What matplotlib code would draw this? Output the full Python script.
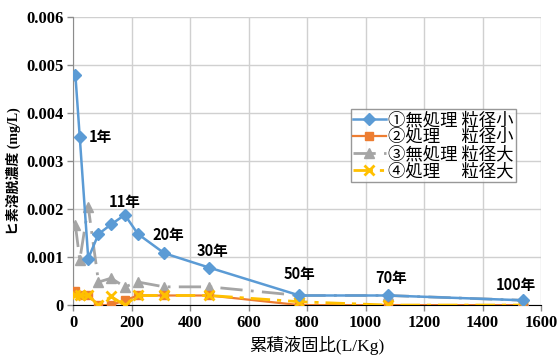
import matplotlib
matplotlib.use("Agg")
import matplotlib.pyplot as plt

# cumulative liquid/solid ratio (L/Kg)
ls_ratio = [8, 23, 52, 87, 130, 177, 222, 312, 466, 774, 1076, 1539]

# arsenic leaching concentration (mg/L)
untreated_small = [0.0048, 0.0035, 0.00097, 0.00148, 0.00168, 0.00188,
                   0.00148, 0.00108, 0.00078, 0.0002, 0.0002, 0.0001]
treated_small = [0.0003, 0.00022, 0.0002, 0.0, 0.0, 0.0001,
                 0.0002, 0.0002, 0.0002, 0.0, 0.0, 0.0]
untreated_large = [0.00167, 0.00094, 0.00205, 0.00048, 0.00056, 0.00038,
                   0.00048, 0.00038, 0.00038, 0.0002, 0.0002, 0.0001]
treated_large = [0.0002, 0.0002, 0.0002, 0.0, 0.00018, 0.0,
                 0.0002, 0.0002, 0.0002, 0.00007, 0.0, 0.0]

series_names = ["①無処理 粒径小", "②処理\u3000 粒径小", "③無処理 粒径大", "④処理\u3000 粒径大"]

# elapsed-years labels attached to points of the first series
year_labels = ["1年", "11年", "20年", "30年", "50年", "70年", "100年"]
year_index = [1, 5, 7, 8, 9, 10, 11]

x_ticks = [0, 200, 400, 600, 800, 1000, 1200, 1400, 1600]
y_ticks = [0, 0.001, 0.002, 0.003, 0.004, 0.005, 0.006]

CJK = "Noto Sans CJK JP"
MIXED = ["Liberation Serif", CJK]

fig = plt.figure(figsize=(5.6, 3.56), dpi=100)
ax = fig.add_axes([0.1304, 0.143, 0.836, 0.809])

blue, orange, gray, yellow = "#5B9BD5", "#ED7D31", "#A5A5A5", "#FFC000"

ax.plot(ls_ratio, untreated_large, color=gray, lw=2, ls=(0, (8, 3, 1, 3)),
        marker="^", ms=7, mfc=gray, mec=gray, label=series_names[2], zorder=3)
ax.plot(ls_ratio, treated_small, color=orange, lw=1.6, ls="-",
        marker="s", ms=6, mfc=orange, mec=orange, label=series_names[1], zorder=4)
ax.plot(ls_ratio, treated_large, color=yellow, lw=2, ls=(0, (7, 2.5, 1.5, 2.5)),
        marker="x", ms=7, mew=2, mec=yellow, label=series_names[3], zorder=5)
ax.plot(ls_ratio, untreated_small, color=blue, lw=1.8, ls="-",
        marker="D", ms=6, mfc=blue, mec=blue, label=series_names[0], zorder=6)

offsets = [(9, 0), (0, 13), (4, 18), (3, 17), (0, 21), (3, 17), (-7, 15)]
for lab, idx, off in zip(year_labels, year_index, offsets):
    ha = "left" if idx == 1 else "center"
    ax.annotate(lab, (ls_ratio[idx], untreated_small[idx]), xytext=off,
                textcoords="offset pixels", ha=ha, va="center",
                fontsize=10.5, fontweight="bold", family=CJK, zorder=7)

ax.set_xlim(0, 1600)
ax.set_ylim(0, 0.006)
ax.set_xticks(x_ticks)
ax.set_yticks(y_ticks)
ax.set_xticklabels([str(v) for v in x_ticks])
ax.set_yticklabels(["0"] + [f"{v:.3f}" for v in y_ticks[1:]])
for t in ax.get_xticklabels() + ax.get_yticklabels():
    t.set_family("Liberation Serif")
    t.set_fontweight("bold")
    t.set_fontsize(12)

ax.grid(True, color="#D0D0D0", lw=1)
ax.set_axisbelow(True)
for side in ("top", "right"):
    ax.spines[side].set_visible(False)
ax.spines["left"].set_color("#8C8C8C")
ax.spines["bottom"].set_color("#000000")
ax.tick_params(axis="both", direction="out", length=4, width=1, color="#8C8C8C", pad=3)

ax.set_xlabel("累積液固比(L/Kg)", family=MIXED, fontsize=12.5)
ax.xaxis.set_label_coords(0.521, -0.108)
ax.set_ylabel("ヒ素溶脱濃度 (mg/L)", family=MIXED, fontsize=10, fontweight="bold")
ax.yaxis.set_label_coords(-0.112, 0.465)

handles, labels = ax.get_legend_handles_labels()
order = [labels.index(n) for n in series_names]
leg = ax.legend([handles[i] for i in order], [labels[i] for i in order],
                loc="upper left", bbox_to_anchor=(0.594, 0.68),
                prop={"family": CJK, "size": 12.5}, frameon=True, fancybox=False,
                edgecolor="#7F7F7F", borderpad=0.1, labelspacing=-0.05,
                handlelength=1.9, handletextpad=0.15, borderaxespad=0)
leg.get_frame().set_linewidth(1)

fig.savefig("out.png", dpi=100)
